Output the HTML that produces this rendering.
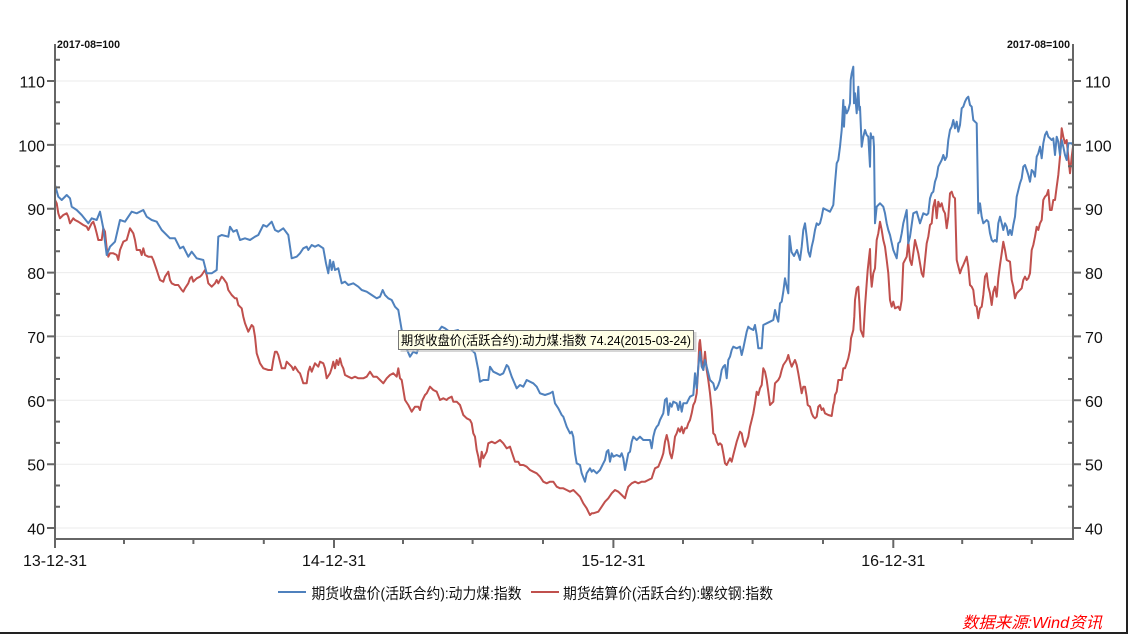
<!DOCTYPE html>
<html><head><meta charset="utf-8"><style>
html,body{margin:0;padding:0;background:#fff;}
svg{display:block;}
text{font-family:"Liberation Sans","Noto Sans CJK SC",sans-serif;}
</style></head><body>
<svg width="1130" height="635" viewBox="0 0 1130 635" xmlns="http://www.w3.org/2000/svg">
<rect x="0" y="0" width="1130" height="635" fill="#fff"/>
<!-- grid -->
<g stroke="#ebebeb" stroke-width="1">
<line x1="56" y1="81" x2="1072" y2="81"/>
<line x1="56" y1="144.9" x2="1072" y2="144.9"/>
<line x1="56" y1="208.7" x2="1072" y2="208.7"/>
<line x1="56" y1="272.6" x2="1072" y2="272.6"/>
<line x1="56" y1="336.4" x2="1072" y2="336.4"/>
<line x1="56" y1="400.3" x2="1072" y2="400.3"/>
<line x1="56" y1="464.2" x2="1072" y2="464.2"/>
<line x1="56" y1="528" x2="1072" y2="528"/>
</g>
<!-- series -->
<g fill="none" stroke-width="2" stroke-linejoin="round" stroke-linecap="round">
<polyline stroke="#c0504d" points="55,200 56.7,203.3 58.3,213.3 60,218.3 63.3,215 66.7,213.3 68.3,216.7 70,223.3 73.3,218.3 75,220 78.3,221.7 83.3,225 86.7,226.7 88.3,230 91.7,223.3 93.3,221.7 95,226.7 96.7,233.3 98.3,240 101.7,240 103.3,228.3 105,231.7 106.7,248.3 108.3,256.7 110,253.3 113.3,253.3 116.7,255 118.3,260 120,250 123.3,241.7 126.7,240 130,228.3 133.3,233.3 135,240 136.7,250 140,250 141.7,255 143.3,248.3 145,255 148.3,256.7 151.7,256.7 153.3,260 155,265 156.7,270 158.3,275 160,280 163.3,281.7 165,276.7 168.3,271.7 170,280 171.7,283.3 175,285 178.3,285 181.7,290 183.3,291.7 185,288.3 188.3,283.3 190,278.3 191.7,276.7 193.3,281.7 196.7,278.3 200,276.7 201.7,275 205,270 206.7,275 208.3,283.3 211.7,286.7 215,283.3 216.7,280 218.3,283.3 221.7,276.7 223.3,278.3 226.7,283.3 228.3,290 231.7,295 235,298.3 236.7,298.3 238.3,305 240,306.7 241.7,308.3 243.3,316.7 245,323.3 248.3,331.7 251.7,325 253.3,326.7 255,336.7 256.7,353.3 260,363.3 263.3,368.3 268.3,370 271.7,370 273.3,360 275,351.7 276.7,351.7 278.3,355 281.7,368.3 285,368.3 286.7,361.7 288.3,363.3 291.7,366.7 293.3,370 295,366.7 298.3,371.7 300,373.3 301.7,378.3 303.3,383.3 306.7,383.3 308.3,371.7 310,366.7 311.7,371.7 315,363.3 318.3,366.7 320,361.7 323.3,363.3 325,368.3 326.7,378.3 330,373.3 331.7,368.3 333.3,361.7 335,368.3 336.7,360 338.3,365 340,358.3 341.7,365 343.3,368.3 345,375 348.3,376.7 351.7,378.3 355,376.7 358.3,378.3 363.3,378.3 366.7,376.7 370,371.7 373.3,376.7 376.7,376.7 380,380 383.3,383.3 386.7,378.3 390,375 393.3,373.3 396.7,376.7 398.3,368.3 400,378.3 401.7,380 405,400 408.3,405 411.7,411.7 415,406.7 418.3,406.7 420,410 421.7,401.7 425,395 426.7,393.3 430,386.7 433.3,390 436.7,391.7 440,400 443.3,398.3 446.7,400 448.3,398.3 451.7,396.7 453.3,401.7 456.7,401.7 460,405 463.3,415 466.7,418.3 470,420 471.7,423.3 473.3,433.3 475,436.7 476.7,450 478.3,456.7 480,466.7 481.7,451.7 483.3,458.3 486.7,451.7 488.3,443.3 491.7,441.7 495,443.3 500,440 503.3,443.3 506.7,448.3 510,446.7 513.3,456.7 515,461.7 518.3,461.7 520,465 523.3,465 526.7,466.7 530,470 533.3,471.7 536.7,473.3 540,476.7 543.3,481.7 546.7,483.3 550,481.7 553.3,481.7 556.7,486.7 560,488.3 563.3,488.3 566.7,490 570,491.7 573.3,490 576.7,493.3 580,496.7 583.3,503.3 586.7,508.3 588.3,511.7 590,515 591.7,513.3 593.3,513.3 598.3,511.7 601.7,506.7 605,501.7 608.3,498.3 611.7,493.3 615,490 618.3,491.7 621.7,495 625,498.3 626.7,491.7 628.3,486.7 631.7,483.3 635,481.7 638.3,483.3 641.7,481.7 645,481.7 648.3,480 651.7,478.3 653.3,473.3 655,468.3 658.3,466.7 661.7,458.3 663.3,453.3 665,441.7 666.7,435 668.3,441.7 670,453.3 671.7,458.3 673.3,450 675,436.7 676.7,433.3 678.3,428.3 680,431.7 681.7,426.7 683.3,433.3 685,428.3 686.7,428.3 688.3,423.3 690,420 691.7,413.3 693.3,405 695,401.7 696.7,393.3 698.3,366.7 699.3,343.3 700,340 701,350 701.7,360 703.3,370 705,351.7 706.7,370 708.3,380 710,393.3 711.7,410 713.3,433.3 715,435 716.7,441.7 718.3,445 720,443.3 721.7,445 723.3,453.3 725,463.3 726.7,465 728.3,461.7 730,458.3 731.7,461.7 733.3,455 736.7,441.7 740,431.7 741.7,433.3 743.3,441.7 745,446.7 746.7,441.7 748.3,436.7 750,426.7 751.7,420 753.3,413.3 755,403.3 756.7,391.7 758.3,395 760,388.3 761.7,385 763.3,368.3 765,371.7 766.7,380 768.3,391.7 770,405 771.7,403.3 773.3,401.7 775,383.3 778.3,380 780,376.7 781.7,370 783.3,365 786.7,360 788.3,355 790,361.7 791.7,366.7 793.3,363.3 795,360 796.7,365 798.3,373.3 800,383.3 801.7,393.3 803.3,386.7 805,386.7 806.7,396.7 807.7,405 810,406.7 811.7,413.3 813.3,416.7 815,418.3 816.7,416.7 818.3,406.7 820,405 821.7,410 823.3,408.3 825,413.3 828.3,415 831.7,416 833.3,405 834.3,401.7 835,395 836.7,391.7 838.3,380 841.7,380 843.3,368.3 845,368.3 846.7,363.3 848.3,358.3 850,350 851,338.3 853.3,330 854.3,316.7 855,300 856.7,288.3 858.3,286.7 859.3,301.7 860.7,330 863.3,336.7 865,306.7 866.7,283.3 867.7,270 869,258 870,249 870.7,273.3 871.7,286.7 873.3,273.3 875,268.3 876.7,240 878.3,233.3 880,221.7 881.7,230 883.3,240 885,246.7 886.7,260 888.3,273.3 890,300 891.7,306.7 893.3,301.7 895,308.3 898.3,306.7 900,310 901.7,300 903.3,263.3 906.7,256.7 908.3,241.7 910,260 911.7,265 913.3,253.3 915,240 916.7,246.7 918.3,253.3 920,263.3 921.7,273.3 923.3,276.7 925,260 926.7,243.3 928.3,236.7 930,225 931.7,223.3 933.3,206.7 935,200 936.7,218.3 938.3,201.7 940,206.7 941.7,203.3 943.3,210 945,213.3 946.7,228.3 948.3,216.7 950,193.3 951.7,191.7 953.3,196.7 955,198.3 956.7,260 960,273.3 961.7,268.3 963.3,265 966.7,256.7 968.3,266.7 970,285 971.7,286.7 973.3,290 975,305 976.7,306.7 978.3,318.3 980,308.3 981.7,306.7 983.3,295 985,276.7 986.7,273.3 988.3,286.7 990,293.3 991.7,305 993.3,291.7 995,286.7 996.7,296.7 998.3,278.3 1000,265 1001.7,253.3 1003.3,241.7 1005,250 1006.7,260 1010,261.7 1011.7,280 1013.3,286.7 1015,298.3 1016.7,293.3 1018.3,291.7 1021.7,288.3 1023.3,280 1025,276.7 1026.7,280 1028.3,278.3 1030,273.3 1031.7,250 1033.3,245 1035,236.7 1036.7,226.7 1038.3,230 1040,223.3 1041.7,220 1043.3,200 1045,196.7 1046.7,195 1048.3,190 1050,210 1051.7,210 1053.3,200 1055,200 1056.7,186.7 1058.3,175 1060,156.7 1061.7,128.3 1063.3,136.7 1065,143.3 1066.7,140 1068.3,156.7 1070,173.3 1071.7,156.7 1073,146.7"/>
<polyline stroke="#4f81bd" points="55,185 58.3,196.7 61.7,200 66.7,195 70,198.3 71.7,206.7 76.7,210 81.7,215 88.3,223.3 91.7,218.3 96.7,220 100,211.7 103.3,228.3 106.7,255 110,246.7 115,241.7 120,220 125,221.7 131.7,211.7 136.7,213.3 143.3,210 146.7,216.7 151.7,220 156.7,221.7 161.7,230 170,238.3 175,238.3 180,248.3 183.3,246.7 188.3,256.7 191.7,251.7 196.7,258.3 203.3,260 206.7,273.3 211.7,273.3 216.7,270 218.3,236.7 221.7,235 228.3,236.7 230,226.7 233.3,231.7 236.7,230 240,240 245,238.3 250,240 255,236.7 258.3,235 263.3,225 266.7,226.7 271.7,221.7 275,230 278.3,231.7 283.3,228.3 288.3,235 291.7,258.3 296.7,256.7 300,253.3 303.3,248.3 306.7,246.7 308.3,250 311.7,245 315,246.7 318.3,245 323.3,248.3 326,263.3 328.3,273.3 330,260 331.7,270 333.3,261.7 335,270 338.3,268.3 341.7,283.3 345,281.7 348.3,285 353.3,283.3 358.3,286.7 361.7,290 366.7,291.7 371.7,295 376.7,298.3 380,296.7 382.7,290 385,295 388.3,298.3 391.7,300 395,306.7 398.3,310 400,320 401.7,330 405,345 408,352 410,356.7 413.3,351.7 416.7,353.3 418.3,348.3 422,345 428,340 435,336 441.7,326.7 445,328.3 450,332 458,330 465,340 470,348.3 475,353.3 478.3,370 480,381.7 483.3,380 488.3,380 490,366.7 493.3,371.7 496.7,373.3 500,375 503.3,373.3 506.7,365 508.3,366.7 511.7,376.7 516.7,388.3 520,385 523.3,386.7 526.7,380 530,381.7 533.3,383.3 536.7,386.7 540,393.3 545,395 550,393.3 552.7,391.7 555,403.3 558.3,408.3 561.7,415 563.3,416.7 566.7,426.7 570,433.3 571.7,431.7 573.3,436.7 575,453.3 576.7,463.3 580,465 581.7,473.3 585,481.7 586.7,473.3 590,468.3 591.7,471.7 593.3,470 596.7,473.3 600,470 603.3,463.3 605,460 606.7,451.7 608.3,450 610,461.7 611.7,453.3 613.3,456.7 616.7,455 620,456.7 621.7,453.3 623.3,458.3 625,470 626.7,461.7 628.3,453.3 630,451.7 631.7,441.7 633.3,436.7 636.7,440 640,436.7 643.3,440 646.7,440 650,440 651.7,448.3 653.3,436.7 655,430 656.7,426.7 658.3,425 660,420 663.3,413.3 665,400 666.7,398.3 668.3,415 670,403.3 671.7,406.7 673.3,401.7 676.7,403.3 678.3,410 680,401.7 681.7,411.7 683.3,403.3 686.7,403.3 688.3,400 690,396.7 693.3,395 695,373.3 696.7,388.3 698.3,366.7 700,351.7 701.7,366.7 703.3,370 705,360 706.7,366.7 710,380 713.3,383.3 715,390 716.7,388.3 718.3,385 720,380 721.7,370 723.3,366.7 725,365 726.7,378.3 728.3,360 730,356.7 731.7,350 733.3,346.7 736.7,348.3 740,346.7 741.7,355 743.3,348.3 745,340 746.7,331.7 748.3,326.7 750,328.3 753.3,330 755,325 756.7,335 758.3,348.3 761.7,348.3 763.3,325 766.7,323.3 770,321.7 773.3,320 775,310 776.7,316.7 778.3,321.7 780,303.3 781.7,301.7 783.3,291.7 785,278.3 786.7,286.7 788.3,293.3 789.5,236 791.5,252 794,256 797,250 800,260 801.7,246.7 803.3,230 805,223.3 806.7,236.7 808.3,251.7 810,256.7 811.7,246.7 813.3,240 815,230 816.7,223.3 818.3,225 820,223.3 821.7,216.7 823.3,208.3 826.7,210 830,211.7 831.7,208.3 833.3,205 835,183.3 836.7,163.3 838.3,160 840,146.7 841.7,130 843.3,100 844,126.7 845,106.7 846.7,113.3 848.3,110 850,103.3 850.7,80 851.7,73.3 853.3,66.7 854,103.3 855,93.3 856.7,113.3 858.3,86.7 859.3,110 860,106.7 861.7,146.7 863.3,136.7 865,130 866.7,135 868.3,136.7 870,166.7 870.7,133.3 871.7,138.3 873.3,136.7 874,146.7 875,223.3 876.7,206.7 880,203.3 883.3,206.7 885,213.3 886.7,223.3 888.3,230 890,235 893.3,250 896.7,258.3 898.3,243.3 900,241.7 901.7,233.3 903.3,223.3 905,216.7 906.7,210 908.3,243.3 910,236.7 913.3,213.3 916.7,211.7 920,223.3 923.3,213.3 926.7,215 928.3,213.3 930,198.3 931.7,193.3 933.3,191.7 935,181.7 936.7,176.7 938.3,166.7 940,163.3 941.7,160 943.3,155 945,160 946.7,156.7 948.3,140 950,130 951.7,126.7 953.3,120 955,128.3 956.7,121.7 958.3,131.7 960,125 961.7,108.3 963.3,106.7 965,101.7 966.7,98.3 968.3,96.7 970,105 971.7,106.7 973.3,120 975,121.7 976.7,123.3 978.3,213.3 980,203.3 981.7,216.7 983.3,223.3 986.7,220 988.3,221.7 990,233.3 991.7,240 993.3,241.7 995,240 996.7,241.7 998.3,223.3 1000,216.7 1001.7,223.3 1003.3,230 1005,223.3 1006.7,226.7 1008.3,235 1010,230 1011.7,235 1013.3,225 1015,216.7 1016.7,196.7 1020,183.3 1021.7,178.3 1023.3,166.7 1025,165 1026.7,170 1028.3,175 1030,181.7 1031.7,170 1033.3,171.7 1035,176.7 1036.7,156.7 1038.3,153.3 1040,146.7 1041.7,158.3 1043.3,143.3 1045,135 1046.7,131.7 1048.3,136.7 1050,138.3 1051.7,140 1053.3,138.3 1055,155 1056.7,136.7 1058.3,141.7 1060,155 1061.7,140 1063.3,146.7 1065,155 1066.7,160 1068.3,143.3 1070,143.3 1071.7,143.3 1073,145"/>
</g>
<!-- axes -->
<g stroke="#666" stroke-width="2" fill="none">
<line x1="55" y1="44" x2="55" y2="540"/>
<line x1="1073" y1="44" x2="1073" y2="540"/>
<line x1="54" y1="539" x2="1074" y2="539"/>
</g>
<g stroke="#666" stroke-width="2">
<!-- left majors -->
<path d="M47 81H55M47 144.9H55M47 208.7H55M47 272.6H55M47 336.4H55M47 400.3H55M47 464.2H55M47 528H55"/>
<!-- left minors -->
<path d="M55 59.7H60M55 102.3H60M55 123.6H60M55 166.2H60M55 187.4H60M55 230H60M55 251.3H60M55 293.9H60M55 315.2H60M55 357.7H60M55 379H60M55 421.6H60M55 442.9H60M55 485.5H60M55 506.7H60"/>
<!-- right majors -->
<path d="M1073 81H1081M1073 144.9H1081M1073 208.7H1081M1073 272.6H1081M1073 336.4H1081M1073 400.3H1081M1073 464.2H1081M1073 528H1081"/>
<!-- right minors -->
<path d="M1068 59.7H1073M1068 102.3H1073M1068 123.6H1073M1068 166.2H1073M1068 187.4H1073M1068 230H1073M1068 251.3H1073M1068 293.9H1073M1068 315.2H1073M1068 357.7H1073M1068 379H1073M1068 421.6H1073M1068 442.9H1073M1068 485.5H1073M1068 506.7H1073"/>
<!-- x majors -->
<path d="M55 539V548M334 539V548M613.4 539V548M893.3 539V548"/>
<!-- x minors -->
<path d="M124 539V544M193.4 539V544M263.8 539V544M403 539V544M472.6 539V544M543 539V544M683 539V544M752.6 539V544M823 539V544M962.2 539V544M1031.8 539V544"/>
</g>
<!-- y labels -->
<g font-size="16" fill="#111" text-anchor="end">
<text x="45" y="87.5">110</text>
<text x="45" y="151.4">100</text>
<text x="45" y="215.2">90</text>
<text x="45" y="279.1">80</text>
<text x="45" y="342.9">70</text>
<text x="45" y="406.8">60</text>
<text x="45" y="470.7">50</text>
<text x="45" y="534.5">40</text>
</g>
<g font-size="16" fill="#111" text-anchor="start">
<text x="1085" y="87.5">110</text>
<text x="1085" y="151.4">100</text>
<text x="1085" y="215.2">90</text>
<text x="1085" y="279.1">80</text>
<text x="1085" y="342.9">70</text>
<text x="1085" y="406.8">60</text>
<text x="1085" y="470.7">50</text>
<text x="1085" y="534.5">40</text>
</g>
<!-- x labels -->
<g font-size="16" fill="#111" text-anchor="middle">
<text x="55" y="566">13-12-31</text>
<text x="334" y="566">14-12-31</text>
<text x="613.4" y="566">15-12-31</text>
<text x="893.3" y="566">16-12-31</text>
</g>
<!-- unit labels -->
<text x="57" y="48" font-size="11" font-weight="bold" fill="#111" textLength="63" lengthAdjust="spacingAndGlyphs">2017-08=100</text>
<text x="1007" y="48" font-size="11" font-weight="bold" fill="#111" textLength="63" lengthAdjust="spacingAndGlyphs">2017-08=100</text>
<!-- tooltip -->
<rect x="400.5" y="332" width="296" height="20" fill="#bbb" opacity="0.6"/>
<rect x="398.5" y="330.5" width="295" height="19" fill="#ffffe6" stroke="#767676" stroke-width="1"/>
<text x="401" y="345" font-size="13" fill="#000" textLength="290" lengthAdjust="spacingAndGlyphs">期货收盘价(活跃合约):动力煤:指数 74.24(2015-03-24)</text>
<!-- legend -->
<line x1="278" y1="592" x2="306" y2="592" stroke="#4f81bd" stroke-width="2"/>
<text x="311.5" y="598.5" font-size="15" fill="#111" textLength="210" lengthAdjust="spacingAndGlyphs">期货收盘价(活跃合约):动力煤:指数</text>
<line x1="531" y1="592" x2="559" y2="592" stroke="#c0504d" stroke-width="2"/>
<text x="563" y="598.5" font-size="15" fill="#111" textLength="210" lengthAdjust="spacingAndGlyphs">期货结算价(活跃合约):螺纹钢:指数</text>
<!-- source -->
<text x="962" y="628" font-size="16" font-style="italic" fill="#ff0000" textLength="140" lengthAdjust="spacingAndGlyphs">数据来源:Wind资讯</text>
<!-- border -->
<line x1="0" y1="633" x2="1128" y2="633" stroke="#222" stroke-width="2"/>
<line x1="1127" y1="0" x2="1127" y2="634" stroke="#222" stroke-width="2"/>
</svg>
</body></html>
